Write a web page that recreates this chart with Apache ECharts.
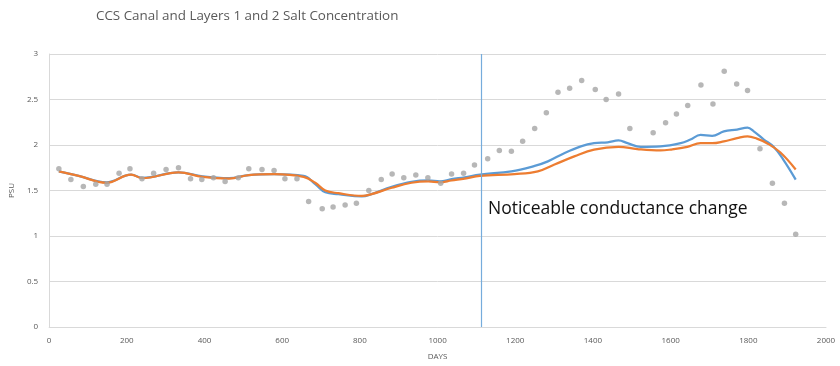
<!DOCTYPE html>
<html>
<head>
<meta charset="utf-8">
<script src="https://cdn.jsdelivr.net/npm/echarts@6/dist/echarts.min.js"></script>
<style>
html,body{margin:0;padding:0;background:#fff;}
#c{width:840px;height:366px;}
</style>
</head>
<body>
<div id="c"></div>
<script>
var titleText = "CCS Canal and Layers 1 and 2 Salt Concentration";
var xName = "DAYS";
var yName = "PSU";
var annotationText = "Noticeable conductance change";
var changeDay = 1112;

var canalDays = [25,56,88,120,149,180,208,239,269,301,333,364,393,423,453,487,514,548,579,607,638,668,703,731,762,791,823,855,883,913,944,975,1008,1036,1067,1095,1129,1159,1190,1219,1250,1280,1310,1340,1371,1406,1434,1466,1495,1555,1587,1615,1644,1678,1709,1738,1770,1798,1830,1862,1893,1922];
var canalPsu  = [1.74,1.62,1.545,1.57,1.57,1.69,1.74,1.63,1.69,1.73,1.75,1.63,1.62,1.64,1.60,1.64,1.74,1.73,1.72,1.63,1.63,1.38,1.30,1.32,1.34,1.36,1.50,1.62,1.68,1.64,1.67,1.64,1.58,1.68,1.69,1.78,1.85,1.94,1.93,2.04,2.18,2.355,2.58,2.625,2.71,2.61,2.50,2.56,2.18,2.135,2.245,2.34,2.435,2.66,2.45,2.81,2.67,2.60,1.96,1.58,1.36,1.02];

var layer1Days = [25,76,147,211,240,333,395,463,514,579,655,685,711,745,805,830,882,933,976,1006,1036,1070,1109,1190,1250,1284,1326,1369,1403,1438,1466,1489,1523,1574,1626,1651,1677,1707,1737,1771,1798,1814,1840,1865,1890,1922];
var layer1Psu  = [1.71,1.66,1.59,1.675,1.64,1.70,1.655,1.635,1.67,1.68,1.66,1.57,1.48,1.46,1.435,1.46,1.54,1.595,1.61,1.60,1.625,1.645,1.675,1.71,1.77,1.82,1.91,1.985,2.02,2.03,2.05,2.02,1.98,1.985,2.02,2.06,2.11,2.10,2.15,2.17,2.19,2.15,2.06,1.98,1.84,1.62];

var layer2Days = [25,76,147,211,240,333,395,463,514,579,655,685,711,745,805,830,882,933,976,1006,1036,1070,1109,1198,1258,1301,1352,1403,1466,1514,1574,1600,1643,1677,1707,1737,1771,1798,1822,1848,1882,1922];
var layer2Psu  = [1.71,1.66,1.585,1.675,1.635,1.70,1.65,1.63,1.67,1.68,1.65,1.585,1.50,1.47,1.44,1.46,1.53,1.585,1.60,1.59,1.61,1.63,1.66,1.68,1.71,1.785,1.875,1.95,1.98,1.955,1.94,1.95,1.98,2.02,2.02,2.04,2.075,2.095,2.07,2.02,1.92,1.73];

function pairs(xs, ys){ return xs.map(function(x,i){ return [x, ys[i]]; }); }

var chart = echarts.init(document.getElementById('c'), null, {renderer:'canvas'});
chart.setOption({
  animation:false,
  backgroundColor:'#ffffff',
  title:{text:titleText,left:96,top:10,padding:0,textStyle:{fontFamily:'Open Sans',fontSize:13.4,fontWeight:'normal',color:'#595959'}},
  grid:{left:46,right:14,top:54,bottom:38},
  xAxis:{type:'value',min:0,max:2000,interval:200,
    name:xName,nameLocation:'middle',nameGap:26,
    nameTextStyle:{fontFamily:'Open Sans',fontSize:8,color:'#595959'},
    axisLine:{show:true,lineStyle:{color:'#d9d9d9',width:1}},
    axisTick:{show:false},
    axisLabel:{fontFamily:'Open Sans',fontSize:8,color:'#595959',margin:10,formatter:function(v){return String(v);}},
    splitLine:{show:false}},
  yAxis:{type:'value',min:0,max:3,interval:0.5,
    name:yName,nameLocation:'middle',nameGap:30,nameRotate:90,
    nameTextStyle:{fontFamily:'Open Sans',fontSize:8,color:'#595959'},
    axisLine:{show:true,lineStyle:{color:'#d9d9d9',width:1}},
    axisTick:{show:false},
    axisLabel:{fontFamily:'Open Sans',fontSize:8,color:'#595959',margin:11},
    splitLine:{show:true,lineStyle:{color:'#d9d9d9',width:1}}},
  graphic:[{type:'text',left:488,top:200,style:{text:annotationText,font:'17.5px "Open Sans"',fill:'#111111'}}],
  series:[
    {name:'Layer 2',type:'line',data:pairs(layer2Days,layer2Psu),smooth:0.4,showSymbol:false,
      lineStyle:{color:'#ED7D31',width:2.25},z:3},
    {name:'Layer 1',type:'line',data:pairs(layer1Days,layer1Psu),smooth:0.4,showSymbol:false,
      lineStyle:{color:'#5B9BD5',width:2.25},z:2,
      markLine:{silent:true,symbol:['none','none'],label:{show:false},
        lineStyle:{color:'#76acdc',width:1.2,type:'solid'},
        data:[{xAxis:changeDay}]}},
    {name:'CCS Canal',type:'scatter',data:pairs(canalDays,canalPsu),symbolSize:5.5,
      itemStyle:{color:'#A5A5A5'},z:4}
  ]
});
</script>
</body>
</html>
